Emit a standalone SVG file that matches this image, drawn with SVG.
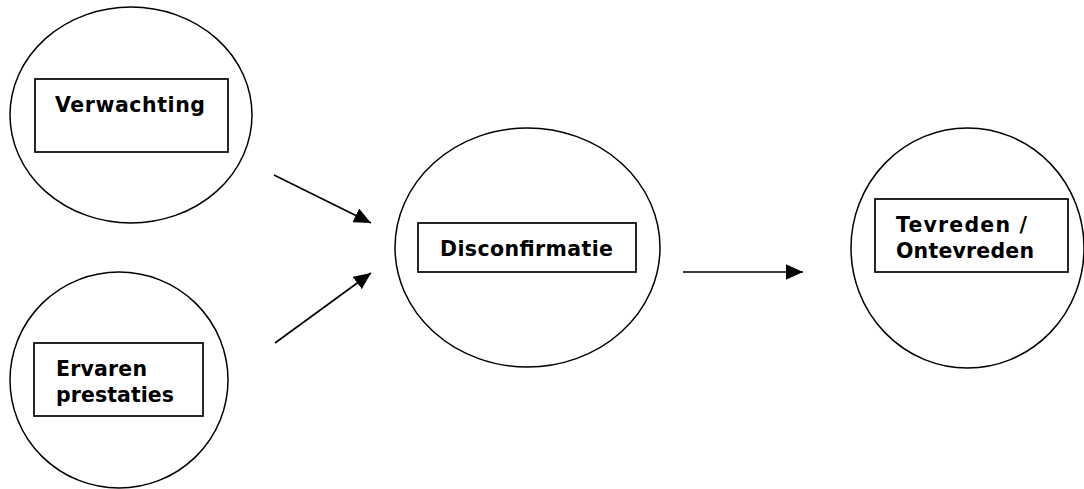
<svg xmlns="http://www.w3.org/2000/svg" width="1084" height="489" viewBox="0 0 1084 489">
<defs>
<style>
.c{fill:none;stroke:#000;stroke-width:1.5}
.b{fill:#fff;stroke:#000;stroke-width:1.7}
.t{font-family:"DejaVu Sans",Verdana,sans-serif;font-weight:bold;font-size:20.5px;fill:#000}
.a{stroke:#000;stroke-width:1.6;fill:none;marker-end:url(#ah)}
</style>
<marker id="ah" viewBox="0 0 10 9" refX="10" refY="4.5" markerUnits="userSpaceOnUse" markerWidth="17" markerHeight="15.3" orient="auto">
<path d="M0,0 L10,4.5 L0,9 Z" fill="#000"/>
</marker>
</defs>
<rect width="1084" height="489" fill="#fff"/>
<g id="verwachting">
<ellipse class="c" cx="131" cy="115" rx="121" ry="108"/>
<rect class="b" x="35" y="79" width="193" height="73"/>
<text class="t" x="55" y="112" textLength="150" lengthAdjust="spacing">Verwachting</text>
</g>
<g id="ervaren-prestaties">
<ellipse class="c" cx="119" cy="380" rx="109" ry="108"/>
<rect class="b" x="34" y="343" width="169" height="73"/>
<text class="t" x="56" y="376" textLength="91" lengthAdjust="spacing">Ervaren</text>
<text class="t" x="56" y="402" textLength="118" lengthAdjust="spacing">prestaties</text>
</g>
<g id="disconfirmatie">
<ellipse class="c" cx="527.5" cy="247.5" rx="132.5" ry="119.5"/>
<rect class="b" x="418" y="223" width="218" height="49"/>
<text class="t" x="440" y="256" textLength="173" lengthAdjust="spacing">Disconfirmatie</text>
</g>
<g id="tevreden">
<ellipse class="c" cx="967.5" cy="248" rx="116.5" ry="120"/>
<rect class="b" x="875" y="199" width="193" height="73"/>
<text class="t" x="896" y="232" textLength="131" lengthAdjust="spacing">Tevreden /</text>
<text class="t" x="896" y="258" textLength="138" lengthAdjust="spacing">Ontevreden</text>
</g>
<g id="connectors">
<line class="a" x1="274" y1="175" x2="371" y2="223"/>
<line class="a" x1="275" y1="343" x2="371" y2="273"/>
<line class="a" x1="683" y1="272" x2="803" y2="272"/>
</g>
</svg>
